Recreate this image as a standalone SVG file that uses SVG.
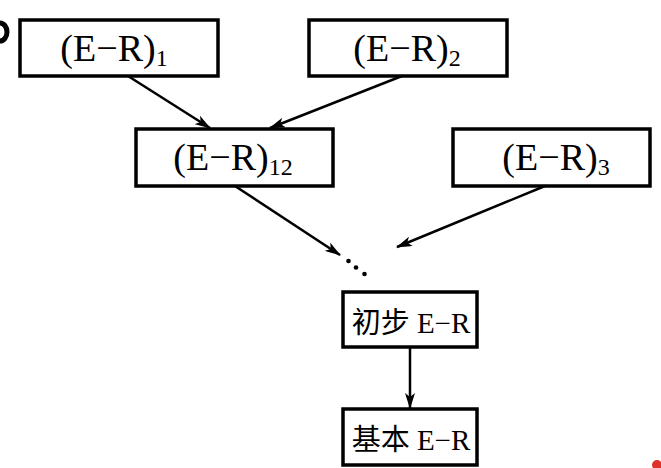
<svg xmlns="http://www.w3.org/2000/svg" width="661" height="468" viewBox="0 0 661 468">
<defs>
<style>
.box{fill:#fff;stroke:#000;stroke-width:3.5}
.lbl{font-family:"Liberation Serif","Noto Sans CJK SC",serif;font-size:38px;fill:#000;text-anchor:middle}
.sub{font-size:24px}
.cn{font-family:"Liberation Serif","Noto Sans CJK SC",serif;font-size:29px;fill:#000;text-anchor:middle}
.conn line{stroke:#000;stroke-width:2.5;marker-end:url(#ah)}
</style>
<marker id="ah" viewBox="0 0 16 10" refX="15" refY="5" markerWidth="16" markerHeight="10" markerUnits="userSpaceOnUse" orient="auto">
<path d="M0,0 L16,5 L0,10 L4,5 z" fill="#000"/>
</marker>
</defs>
<rect width="661" height="468" fill="#fff"/>
<path d="M0,23 A7,9 0 0 1 0,41" fill="none" stroke="#000" stroke-width="5"/>
<circle cx="657" cy="465" r="5" fill="#e0302a"/>
<g id="n1">
<rect class="box" x="20" y="20" width="198" height="56"/>
<text class="lbl" x="114" y="61">(E−R)<tspan class="sub" dy="5">1</tspan></text>
</g>
<g id="n2">
<rect class="box" x="309" y="20" width="198" height="56"/>
<text class="lbl" x="407" y="61">(E−R)<tspan class="sub" dy="5">2</tspan></text>
</g>
<g id="n12">
<rect class="box" x="136" y="129" width="197" height="57"/>
<text class="lbl" x="233" y="170">(E−R)<tspan class="sub" dy="5">12</tspan></text>
</g>
<g id="n3">
<rect class="box" x="453" y="129" width="197" height="57"/>
<text class="lbl" x="556" y="170">(E−R)<tspan class="sub" dy="5">3</tspan></text>
</g>
<g id="dots">
<circle cx="348.5" cy="261" r="2.3"/>
<circle cx="356" cy="267.5" r="2.3"/>
<circle cx="364.5" cy="274" r="2.3"/>
</g>
<g id="prelim">
<rect class="box" x="343" y="292" width="134" height="55"/>
<text class="cn" x="411" y="333">初步 E−R</text>
</g>
<g id="basic">
<rect class="box" x="343" y="409" width="134" height="56"/>
<text class="cn" x="411" y="450">基本 E−R</text>
</g>
<g class="conn" id="connectors">
<line x1="128" y1="76" x2="210" y2="128"/>
<line x1="402" y1="76" x2="270" y2="128"/>
<line x1="235" y1="186" x2="340" y2="255"/>
<line x1="545" y1="186" x2="397" y2="247"/>
<line x1="410" y1="347" x2="410" y2="408"/>
</g>
</svg>
